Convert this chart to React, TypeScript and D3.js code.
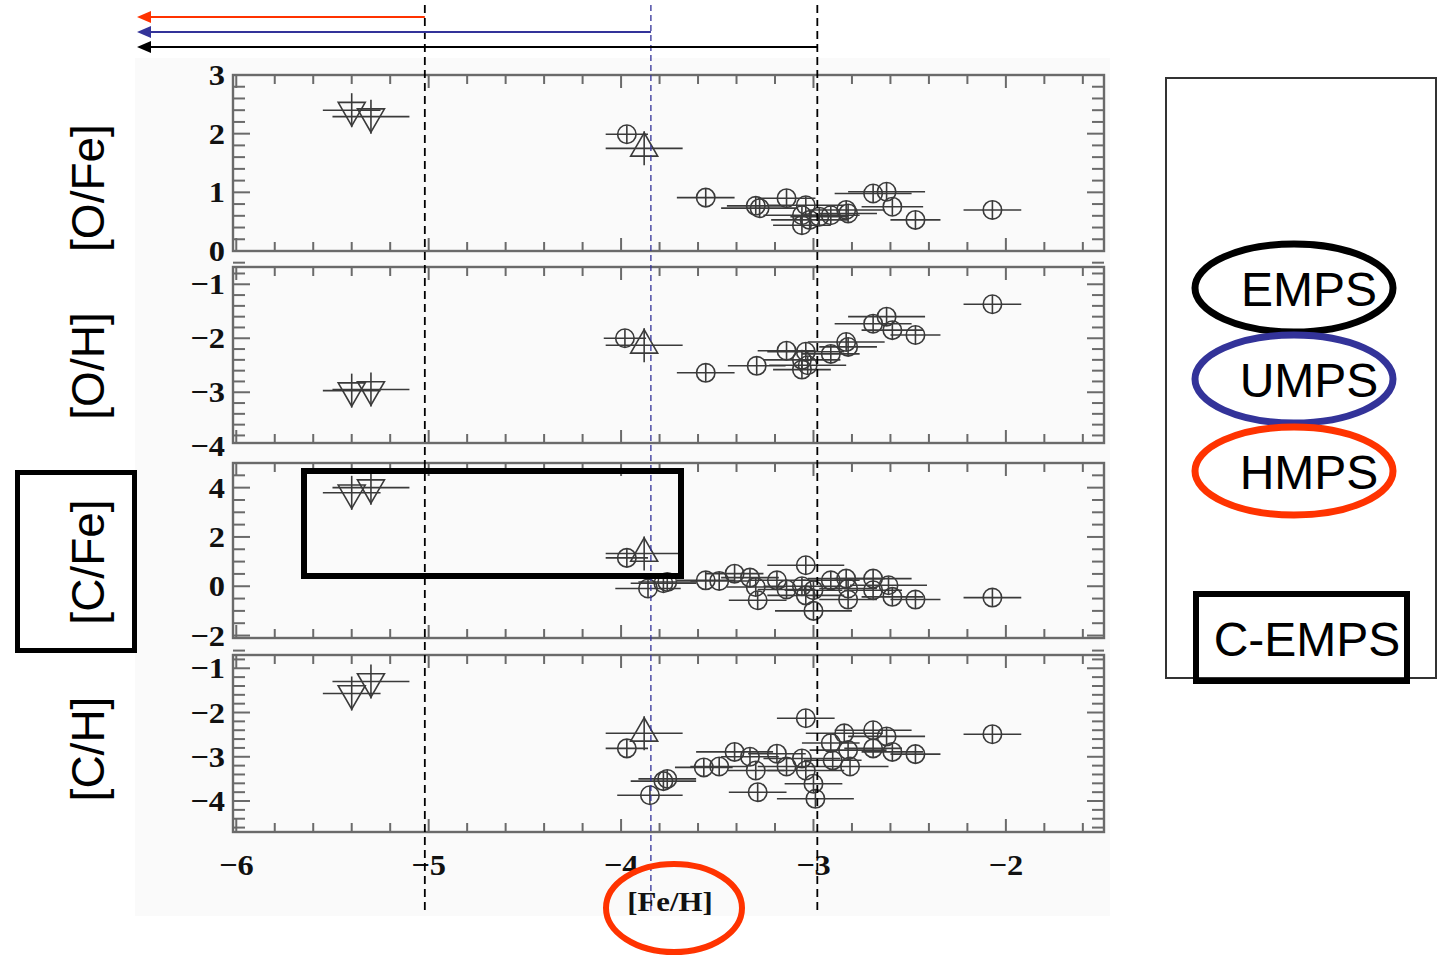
import React from 'react';
import * as d3 from 'd3';

// marker: 'o' EMPS circle, 'v' HMPS down triangle, '^' UMPS up triangle
// [marker, [Fe/H], value, xerr]
type Pt = [string, number, number, number];

const xMajorTicks = [-6, -5, -4, -3, -2];
const xDomain: [number, number] = [-6.017, -1.49];

const panelLabels = ['[O/Fe]', '[O/H]', '[C/Fe]', '[C/H]'];

const ofeDomain: [number, number] = [0, 3];
const ofeTicks = [0, 1, 2, 3];
const ohDomain: [number, number] = [-3.94, -0.68];
const ohTicks = [-4, -3, -2, -1];
const cfeDomain: [number, number] = [-2.1, 5.0];
const cfeTicks = [-2, 0, 2, 4];
const chDomain: [number, number] = [-4.7, -0.7];
const chTicks = [-4, -3, -2, -1];

const ofePoints: Pt[] = [
  ['v', -5.40, 2.40, 0.15], ['v', -5.30, 2.29, 0.2], ['o', -3.97, 1.99, 0.11], ['^', -3.88, 1.75, 0.2],
  ['o', -3.56, 0.91, 0.15], ['o', -3.30, 0.77, 0.15], ['o', -3.28, 0.73, 0.2], ['o', -3.14, 0.90, 0.15],
  ['o', -3.04, 0.78, 0.2], ['o', -3.06, 0.61, 0.2], ['o', -3.06, 0.44, 0.15], ['o', -3.02, 0.53, 0.2],
  ['o', -2.97, 0.585, 0.15], ['o', -2.91, 0.61, 0.15], ['o', -2.83, 0.70, 0.2], ['o', -2.82, 0.64, 0.15],
  ['o', -2.69, 0.98, 0.2], ['o', -2.62, 1.01, 0.2], ['o', -2.59, 0.755, 0.16], ['o', -2.47, 0.53, 0.13],
  ['o', -2.07, 0.70, 0.15],
];

const ohPoints: Pt[] = [
  ['v', -5.40, -2.97, 0.15], ['v', -5.30, -2.95, 0.2], ['o', -3.98, -2.0, 0.11], ['^', -3.88, -2.13, 0.2],
  ['o', -3.56, -2.64, 0.15], ['o', -3.295, -2.51, 0.15], ['o', -3.14, -2.23, 0.15], ['o', -3.04, -2.25, 0.2],
  ['o', -3.06, -2.40, 0.2], ['o', -3.06, -2.58, 0.15], ['o', -3.03, -2.50, 0.2], ['o', -2.91, -2.29, 0.15],
  ['o', -2.83, -2.07, 0.2], ['o', -2.82, -2.16, 0.15], ['o', -2.69, -1.73, 0.2], ['o', -2.62, -1.60, 0.2],
  ['o', -2.59, -1.85, 0.16], ['o', -2.47, -1.94, 0.13], ['o', -2.07, -1.37, 0.15],
];

const cfePoints: Pt[] = [
  ['v', -5.40, 3.79, 0.15], ['v', -5.30, 4.0, 0.2], ['o', -3.97, 1.15, 0.11], ['^', -3.88, 1.33, 0.2],
  ['o', -3.86, -0.09, 0.17], ['o', -3.78, 0.12, 0.17], ['o', -3.76, 0.17, 0.15],
  ['o', -3.56, 0.24, 0.15], ['o', -3.49, 0.215, 0.15], ['o', -3.41, 0.51, 0.15], ['o', -3.33, 0.35, 0.15],
  ['o', -3.30, -0.03, 0.15], ['o', -3.29, -0.57, 0.15], ['o', -3.19, 0.24, 0.15], ['o', -3.14, -0.13, 0.15],
  ['o', -3.06, 0.0, 0.2], ['o', -3.04, -0.37, 0.2], ['o', -3.04, 0.85, 0.2], ['o', -3.0, -1.0, 0.2],
  ['o', -3.0, -0.16, 0.15], ['o', -2.91, 0.24, 0.15], ['o', -2.83, 0.31, 0.2], ['o', -2.82, -0.09, 0.15],
  ['o', -2.82, -0.54, 0.15], ['o', -2.69, 0.31, 0.2], ['o', -2.69, -0.16, 0.15], ['o', -2.61, 0.04, 0.2],
  ['o', -2.59, -0.43, 0.16], ['o', -2.47, -0.54, 0.13], ['o', -2.07, -0.46, 0.15],
];

const chPoints: Pt[] = [
  ['v', -5.40, -1.57, 0.15], ['v', -5.30, -1.30, 0.2], ['^', -3.88, -2.47, 0.2], ['o', -3.97, -2.81, 0.11],
  ['o', -3.78, -3.55, 0.17], ['o', -3.76, -3.50, 0.15], ['o', -3.85, -3.87, 0.17],
  ['o', -3.57, -3.24, 0.15], ['o', -3.49, -3.22, 0.15], ['o', -3.41, -2.89, 0.2], ['o', -3.33, -3.0, 0.15],
  ['o', -3.30, -3.31, 0.15], ['o', -3.29, -3.80, 0.15], ['o', -3.19, -2.93, 0.15], ['o', -3.14, -3.22, 0.15],
  ['o', -3.06, -3.04, 0.2], ['o', -3.04, -3.31, 0.2], ['o', -3.04, -2.13, 0.15], ['o', -3.0, -3.61, 0.15],
  ['o', -2.99, -3.95, 0.2], ['o', -2.91, -2.69, 0.15], ['o', -2.90, -3.08, 0.15], ['o', -2.84, -2.47, 0.2],
  ['o', -2.82, -2.85, 0.2], ['o', -2.81, -3.22, 0.2], ['o', -2.69, -2.40, 0.2], ['o', -2.69, -2.81, 0.15],
  ['o', -2.62, -2.54, 0.2], ['o', -2.59, -2.89, 0.16], ['o', -2.47, -2.94, 0.13], ['o', -2.07, -2.49, 0.15],
];

// thresholds for HMPS / UMPS / EMPS classes (as drawn)
const classNames = ['HMPS', 'UMPS', 'EMPS'];
const classLimits = [-5.02, -3.845, -2.98];
const classColors = ['#ff3300', '#333399', '#000000'];
const limitLineColors = ['#000000', '#333399', '#000000'];

const W = 1438;
const H = 958;
const PL = 233;
const PR = 1104;
const serif = '"Liberation Serif", "DejaVu Serif", serif';
const sans = '"Liberation Sans", Arial, sans-serif';
const axisColor = '#6a6a6a';
const markColor = '#3a3a3a';

const fmt = (v: number) => (v < 0 ? '\u2212' + Math.abs(v) : String(v));

function range(a: number, b: number, step: number) {
  const out: number[] = [];
  const n = Math.round((b - a) / step);
  for (let i = 0; i <= n; i++) out.push(+(a + i * step).toFixed(4));
  return out;
}

export default function App() {
  const x = d3.scaleLinear().domain(xDomain).range([PL, PR]);

  const panels = [
    { label: panelLabels[0], data: ofePoints, domain: ofeDomain, ticks: ofeTicks, minor: 0.2, top: 75, bottom: 251, labelY: 188 },
    { label: panelLabels[1], data: ohPoints, domain: ohDomain, ticks: ohTicks, minor: 0.2, top: 267, bottom: 443, labelY: 366 },
    { label: panelLabels[2], data: cfePoints, domain: cfeDomain, ticks: cfeTicks, minor: 0.5, top: 463, bottom: 638, labelY: 562 },
    { label: panelLabels[3], data: chPoints, domain: chDomain, ticks: chTicks, minor: 0.2, top: 655, bottom: 832, labelY: 749 },
  ];

  const xMinor = range(-6, -1.6, 0.2).filter((v) => v >= xDomain[0] && v <= xDomain[1]);
  const triUp = d3.symbol(d3.symbolTriangle, 316)() as string;
  const circ = d3.symbol(d3.symbolCircle, Math.PI * 85)() as string;

  return (
    <svg width={W} height={H} style={{ position: 'absolute', left: 0, top: 0, background: '#fff' }}>
      <rect x={135} y={58} width={975} height={858} fill="#fafafa" />
      {panels.map((p, pi) => {
        const y = d3.scaleLinear().domain(p.domain).range([p.bottom, p.top]);
        const lo = Math.ceil(p.domain[0] / p.minor) * p.minor;
        const yMinor = range(lo, p.domain[1], p.minor);
        const isMajor = (v: number) => p.ticks.some((t) => Math.abs(t - v) < 1e-6);
        return (
          <g key={pi}>
            <rect x={PL} y={p.top} width={PR - PL} height={p.bottom - p.top} fill="none" stroke={axisColor} strokeWidth={2.4} />
            {xMinor.map((v, i) => {
              const len = xMajorTicks.includes(Math.round(v * 10) / 10) ? 13 : 9;
              return (
                <g key={'xt' + i} stroke={axisColor} strokeWidth={2}>
                  <line x1={x(v)} x2={x(v)} y1={p.bottom} y2={p.bottom - len} />
                  <line x1={x(v)} x2={x(v)} y1={p.top} y2={p.top + len} />
                </g>
              );
            })}
            {yMinor.map((v, i) => {
              const len = isMajor(v) ? 17 : 12;
              return (
                <g key={'yt' + i} stroke={axisColor} strokeWidth={2}>
                  <line x1={PL} x2={PL + len} y1={y(v)} y2={y(v)} />
                  <line x1={PR} x2={PR - len} y1={y(v)} y2={y(v)} />
                </g>
              );
            })}
            {p.ticks.map((t, i) => (
              <text key={'yl' + i} transform={`translate(${PL - 8},${y(t) + 10}) scale(1.08,1)`} textAnchor="end"
                fontFamily={serif} fontWeight="bold" fontSize={30} fill="#111">
                {fmt(t)}
              </text>
            ))}
            {p.data.map((d, i) => {
              const [m, fe, v, xe] = d;
              const cx = x(fe);
              const cy = y(v);
              const vlen = m === 'o' ? 9 : 17;
              return (
                <g key={'pt' + i} stroke={markColor} strokeWidth={1.6} fill="none">
                  <line x1={x(fe - xe)} x2={x(fe + xe)} y1={cy} y2={cy} />
                  <line x1={cx} x2={cx} y1={cy - vlen} y2={cy + vlen} />
                  {m === 'o' && <path d={circ} transform={`translate(${cx},${cy})`} />}
                  {m === '^' && <path d={triUp} transform={`translate(${cx},${cy})`} />}
                  {m === 'v' && <path d={triUp} transform={`translate(${cx},${cy}) rotate(180)`} />}
                </g>
              );
            })}
            <text transform={`translate(${104},${p.labelY}) rotate(-90)`} textAnchor="middle"
              fontFamily={sans} fontSize={46} fill="#000">
              {p.label}
            </text>
          </g>
        );
      })}

      {/* x tick labels */}
      {xMajorTicks.map((t, i) => (
        <text key={'xl' + i} transform={`translate(${x(t)},${875}) scale(1.08,1)`} textAnchor="middle"
          fontFamily={serif} fontWeight="bold" fontSize={30} fill="#111">
          {fmt(t)}
        </text>
      ))}
      <text transform={`translate(${670},${911}) scale(1.1,1)`} textAnchor="middle" fontFamily={serif} fontWeight="bold" fontSize={28} fill="#111">
        [Fe/H]
      </text>

      {/* class limits: dashed verticals and arrows */}
      {classLimits.map((v, i) => (
        <g key={'cl' + i}>
          <line x1={x(v)} x2={x(v)} y1={5} y2={912} stroke={limitLineColors[i]} strokeWidth={i === 1 ? 1.3 : 1.8}
            strokeDasharray={i === 1 ? '6,4' : '8,5'} />
          <line x1={x(v)} x2={146} y1={17 + 15 * i} y2={17 + 15 * i} stroke={classColors[i]} strokeWidth={2} />
          <path d={`M137,${17 + 15 * i} L151,${11 + 15 * i} L151,${23 + 15 * i} Z`} fill={classColors[i]} />
        </g>
      ))}

      {/* C-EMPS highlight in [C/Fe] panel */}
      <rect x={304} y={471} width={377} height={105} fill="none" stroke="#000" strokeWidth={6} />
      <rect x={17.5} y={472.5} width={117} height={178} fill="none" stroke="#000" strokeWidth={5} />

      {/* [Fe/H] circle */}
      <ellipse cx={674} cy={908} rx={68} ry={44} fill="none" stroke="#ff3300" strokeWidth={6} />

      {/* legend */}
      <rect x={1166} y={78} width={270} height={600} fill="#fff" stroke="#333" strokeWidth={2} />
      {[2, 1, 0].map((ci, k) => {
        const cy = [288, 379, 471][k];
        return (
          <g key={'lg' + ci}>
            <ellipse cx={1294} cy={cy} rx={99} ry={44} fill="none" stroke={classColors[ci]} strokeWidth={7} />
            <text x={1309} y={cy + 18} textAnchor="middle" fontFamily={sans} fontSize={48} fill="#000">
              {classNames[ci]}
            </text>
          </g>
        );
      })}
      <rect x={1196} y={594} width={211} height={87} fill="none" stroke="#000" strokeWidth={6} />
      <text x={1307} y={656} textAnchor="middle" fontFamily={sans} fontSize={48} fill="#000">
        C-EMPS
      </text>
    </svg>
  );
}
